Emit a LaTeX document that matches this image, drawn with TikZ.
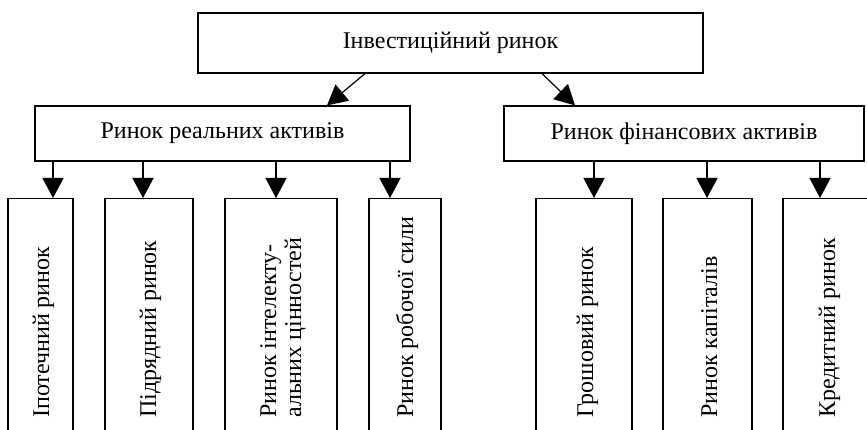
\documentclass[tikz,border=0pt]{standalone}
\usepackage{fontspec}
\setmainfont{Liberation Serif}
\usetikzlibrary{arrows.meta}
\tikzset{
  box/.style={draw=black, line width=1.2pt, rectangle, inner sep=0pt},
  lbl/.style={font=\fontsize{24}{25}\selectfont, inner sep=0pt},
  vlbl/.style={font=\fontsize{24}{25}\selectfont, inner sep=0pt, rotate=90, anchor=base west},
  arr/.style={line width=1.2pt, -{Triangle[length=20pt,width=21pt]}}
}
\begin{document}
\begin{tikzpicture}[x=1pt,y=-1pt]
\useasboundingbox (0,0) rectangle (867,430);
\clip (0,0) rectangle (867,430);
% top level
\node[box, minimum width=505pt, minimum height=60pt] (top) at (450.5,43) {};
\node[lbl] (toptxt) at (top.center) {Інвестиційний ринок};
% second level
\node[box, minimum width=375pt, minimum height=55pt] (L) at (222.5,133.5) {};
\node[lbl] (Ltxt) at (L.center) {Ринок реальних активів};
\node[box, minimum width=360pt, minimum height=55pt] (R) at (684,133.5) {};
\node[lbl] (Rtxt) at (R.center) {Ринок фінансових активів};
% third level boxes (top edge at y=198, running past the bottom)
\node[box, minimum width=65pt, minimum height=250pt, anchor=north] (b1) at (40.5,198) {};
\node[box, minimum width=88pt, minimum height=250pt, anchor=north] (b2) at (149,198) {};
\node[box, minimum width=112pt, minimum height=250pt, anchor=north] (b3) at (281,198) {};
\node[box, minimum width=72pt, minimum height=250pt, anchor=north] (b4) at (405,198) {};
\node[box, minimum width=96pt, minimum height=250pt, anchor=north] (b5) at (584,198) {};
\node[box, minimum width=89pt, minimum height=250pt, anchor=north] (b6) at (707.5,198) {};
\node[box, minimum width=100pt, minimum height=250pt, anchor=north] (b7) at (833,198) {};
% vertical labels
\node[vlbl] (t1) at (49,418) {Іпотечний ринок};
\node[vlbl] (t2) at (156,418) {Підрядний ринок};
\node[font=\fontsize{24}{25}\selectfont, inner sep=0pt, rotate=90, anchor=west, align=left] (t3) at (283,418) {Ринок інтелекту-\\альних цінностей};
\node[vlbl] (t4) at (413,418) {Ринок робочої сили};
\node[vlbl] (t5) at (593,418) {Грошовий ринок};
\node[vlbl] (t6) at (717,418) {Ринок капіталів};
\node[vlbl] (t7) at (835,418) {Кредитний ринок};
% connectors
\draw[arr] (top.south -| 365,0) -- (L.north -| 327,0);
\draw[arr] (top.south -| 542,0) -- (R.north -| 575,0);
\draw[arr] (L.south -| 53,0) -- (b1.north -| 53,0);
\draw[arr] (L.south -| 143,0) -- (b2.north -| 143,0);
\draw[arr] (L.south -| 276,0) -- (b3.north -| 276,0);
\draw[arr] (L.south -| 390,0) -- (b4.north -| 390,0);
\draw[arr] (R.south -| 594,0) -- (b5.north -| 594,0);
\draw[arr] (R.south -| 707,0) -- (b6.north -| 707,0);
\draw[arr] (R.south -| 820,0) -- (b7.north -| 820,0);
\end{tikzpicture}
\end{document}
